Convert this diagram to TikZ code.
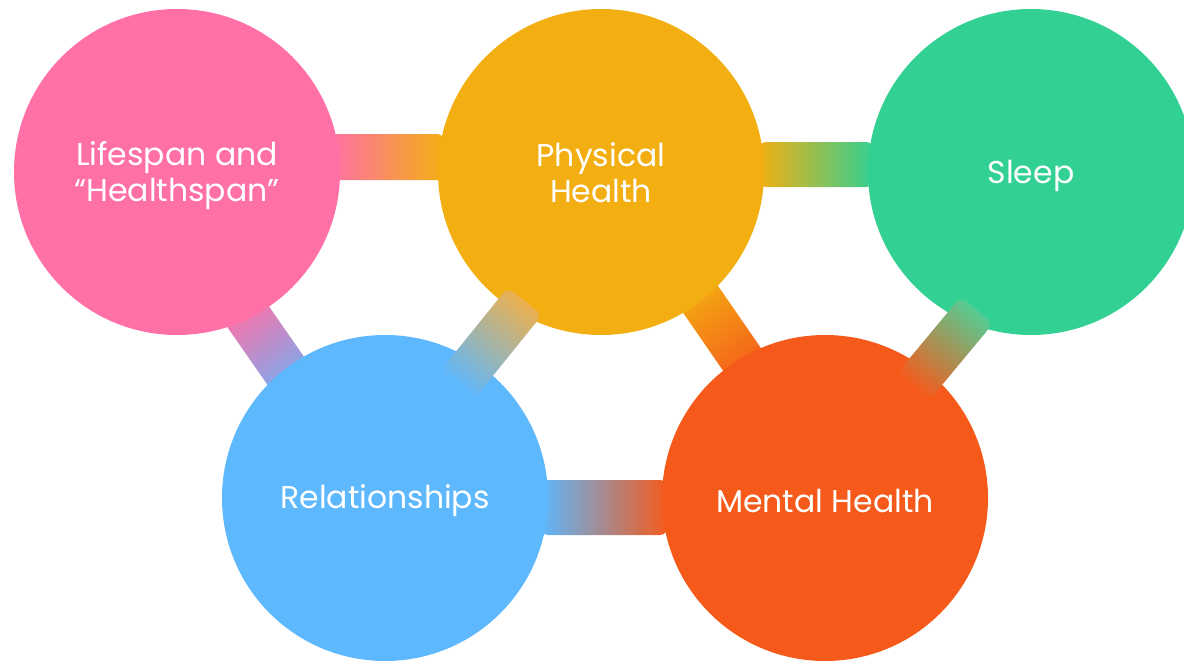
\documentclass[tikz,border=0pt]{standalone}
\usepackage{fontspec}
\setmainfont{Poppins}
\usetikzlibrary{calc,backgrounds}
\definecolor{cpink}{HTML}{FF70A6}
\definecolor{cyellow}{HTML}{F3AF12}
\definecolor{cgreen}{HTML}{33D093}
\definecolor{cblue}{HTML}{5DB8FE}
\definecolor{corange}{HTML}{F55A1B}
\definecolor{cybstart}{HTML}{EDB04E}
\definecolor{cgostart}{HTML}{55CD94}
\newcommand\myband[6]{%
  \begin{scope}[transform canvas={shift={(#1)},rotate=#2}]
    \shade[left color=#5,right color=#6,rounded corners=8pt] (0,-#4) rectangle (#3,#4);
  \end{scope}}
\begin{document}
\begin{tikzpicture}[x=1pt,y=-1pt,
  circ/.style={circle, minimum size=326pt, inner sep=0pt},
  lbl/.style={text=white, align=center, inner sep=0pt,
    font=\fontsize{31.5}{36}\selectfont},
  hband/.style={rounded corners=8pt}]
\useasboundingbox (0,0) rectangle (1184,661);
\clip (0,0) rectangle (1184,661);

\node[circ, fill=cpink]   (life)   at (177,172) {};
\node[circ, fill=cyellow] (phys)   at (601,172) {};
\node[circ, fill=cgreen]  (sleep)  at (1031,172) {};
\node[circ, fill=cblue]   (rel)    at (385,498) {};
\node[circ, fill=corange] (mental) at (825,498) {};

\node[lbl] (lifet)   at ([yshift=-4pt]life.center)   {Lifespan and\\“Healthspan”};
\node[lbl] (physt)   at ([yshift=-1pt]phys.center)   {Physical\\Health};
\node[lbl] (sleept)  at ([yshift=-4pt]sleep.center)  {Sleep};
\node[lbl] (relt)    at ([yshift=-3pt]rel.center)    {Relationships};
\node[lbl] (mentalt) at ([yshift=-3pt]mental.center) {Mental Health};

\coordinate (pbstart) at ($(life.center)+(63,133)$);
\coordinate (yostart) at ($(phys.center)+(89,112)$);
\coordinate (ybstart) at ($(phys.center)+(-76,129)$);
\coordinate (gostart) at ($(sleep.center)+(-54,138)$);

\begin{pgfonlayer}{background}
  \fill[white] (0,0) rectangle (1184,661);
  \shade[hband, left color=cpink, right color=cyellow]
    ([xshift=-10pt,yshift=38pt]life.east) rectangle ([xshift=7pt,yshift=-8pt]phys.west);
  \shade[hband, left color=cyellow, right color=cgreen]
    ([xshift=-6pt,yshift=30pt]phys.east) rectangle ([xshift=6pt,yshift=-15pt]sleep.west);
  \shade[hband, left color=cblue, right color=corange]
    ([xshift=-8pt,yshift=18pt]rel.east) rectangle ([xshift=6pt,yshift=-37pt]mental.west);
  \myband{pbstart}{-55.2}{115}{23}{cpink}{cblue}
  \myband{yostart}{-55.4}{110}{22}{cyellow}{corange}
\end{pgfonlayer}

\myband{ybstart}{-128.9}{108}{22}{cybstart}{cblue}
\myband{gostart}{-129.7}{100}{21}{cgostart}{corange}
\end{tikzpicture}
\end{document}
